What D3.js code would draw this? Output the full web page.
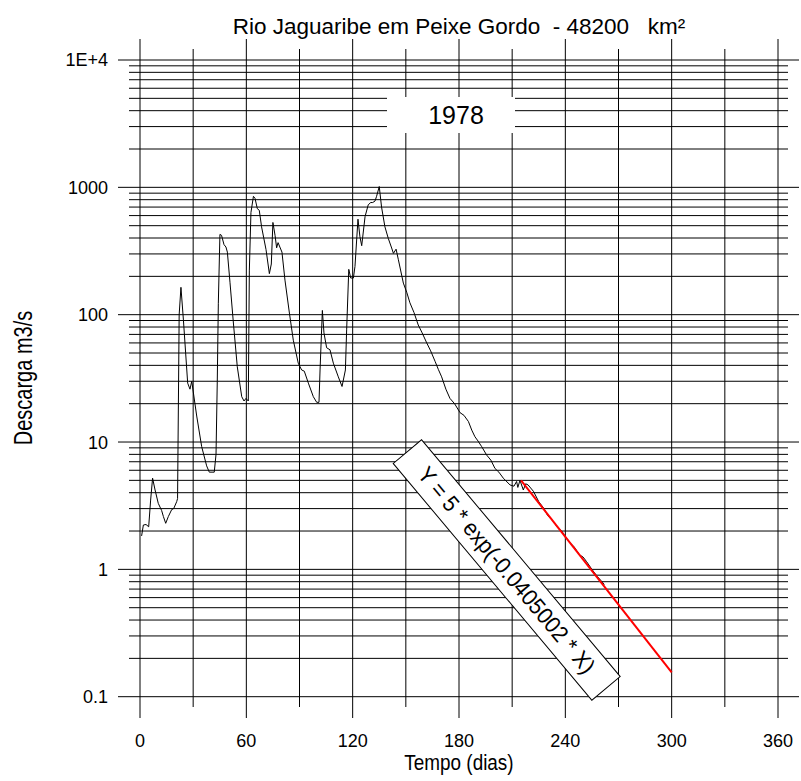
<!DOCTYPE html>
<html>
<head>
<meta charset="utf-8">
<script src="https://cdn.jsdelivr.net/npm/d3@7"></script>
<style>
  body { margin: 0; background: #fff; }
  svg { display: block; font-family: "Liberation Sans", Arial, sans-serif; }
  text { white-space: pre; }
</style>
</head>
<body>
<svg id="chart" width="801" height="781"></svg>
<script>
// daily discharge (day, m3/s)
const days = [0.9, 1.9, 3.4, 4.9, 6.0, 7.1, 8.5, 10.3, 12.2, 13.2, 14.5, 16.0, 17.9, 19.0, 20.7, 21.2,
  22.1, 23.1, 24.5, 26.9, 28.2, 29.2, 32.0, 34.8, 37.6, 39.1, 41.9, 42.9, 43.6, 44.2, 45.1, 46.0,
  47.4, 48.5, 49.3, 50.8, 52.7, 54.9, 57.4, 58.7, 59.8, 61.1, 61.7, 62.6, 64.0, 64.9, 66.2, 67.3,
  68.6, 71.1, 73.0, 74.1, 75.0, 76.2, 77.1, 77.9, 80.1, 81.8, 84.3, 86.5, 89.3, 91.2, 92.7, 95.0,
  97.8, 99.7, 101.0, 101.6, 102.9, 103.8, 105.3, 107.2, 109.1, 111.9, 114.0, 115.9, 116.6, 117.8,
  118.9, 120.4, 121.3, 123.0, 124.1, 125.1, 127.0, 128.8, 130.2, 131.3, 132.6, 133.5, 135.0, 136.3,
  138.2, 140.1, 142.0, 143.0, 144.5, 145.8, 148.6, 150.5, 152.3, 154.6, 157.0, 159.2, 161.8, 164.0,
  166.5, 168.4, 170.2, 172.6, 174.9, 177.5, 180.6, 182.8, 185.3, 187.2, 189.0, 190.7, 192.8, 195.6,
  198.0, 200.3, 202.5, 205.0, 208.8, 211.0, 212.5, 213.2, 214.4, 216.3, 217.6, 219.0,
  222.0, 225, 228, 230, 233, 236, 238, 240, 243, 245, 248, 250, 252, 255, 258, 260, 262];
const discharge = [1.83, 2.23, 2.25, 2.16, 3.5, 5.2, 4.2, 3.3, 2.9, 2.6, 2.3, 2.6, 2.95, 3.0, 3.4, 3.6,
  100, 164, 91, 29, 26, 30, 16, 9.2, 6.5, 5.8, 5.8, 8, 30, 123, 427, 420,
  355, 340, 310, 178, 86, 39, 22.7, 21, 22, 21, 224, 634, 850, 820, 680, 660,
  490, 325, 210, 250, 530, 420, 335, 368, 310, 187, 103, 63, 41.6, 36.8, 36, 29,
  22.7, 20.5, 20.5, 36.8, 108, 72, 55, 53, 41.6, 32.5, 27.3, 36.8, 76, 227,
  194, 194, 239, 562, 409, 348, 590, 730, 760, 760, 780, 850, 1015, 700,
  490, 397, 334, 303, 327, 270, 177, 150, 124, 104, 83, 72, 60, 52,
  43, 37, 32.5, 26, 22, 20, 17, 16.2, 14.5, 12.4, 11, 10.2, 9.2, 7.9,
  7.2, 6.2, 5.8, 5.2, 4.6, 4.5, 4.9, 4.4, 5.0, 4.2, 4.7, 4.6,
  4.1, 3.4, 3.0, 2.65, 2.4, 2.1, 2.0, 1.8, 1.6, 1.5, 1.3, 1.25, 1.15, 1.0, 0.88, 0.82, 0.76];

// recession fit, end points of the red line
const fitDays = [215, 300];
const fitDischarge = [5, 0.155];

const xTicks = [0, 60, 120, 180, 240, 300, 360];
const xGrid = [0, 30, 60, 90, 120, 150, 180, 210, 240, 270, 300, 330, 360];
const yTicks = [0.1, 1, 10, 100, 1000, 10000];
const yTickLabels = ["0.1", "1", "10", "100", "1000", "1E+4"];

const title = "Rio Jaguaribe em Peixe Gordo  - 48200   km²";
const yearLabel = "1978";
const equation = "Y = 5 * exp(-0.0405002 * X)";

const svg = d3.select('#chart');

const x = d3.scaleLinear().domain([0, 360]).range([140, 778]);
const y = d3.scaleLog().domain([0.1, 10000]).range([696.7, 60]);

// horizontal grid: decades long, 2..9 shorter
const minorY = [];
yTicks.slice(0, -1).forEach(d => {
  for (let k = 2; k <= 9; k++) minorY.push(d * k);
});

const grid = svg.append('g').attr('stroke', '#000').attr('stroke-width', 1);

grid.selectAll('line.hmin')
  .data(minorY)
  .join('line')
  .attr('class', 'hmin')
  .attr('x1', 129).attr('x2', 788)
  .attr('y1', d => y(d)).attr('y2', d => y(d));

grid.selectAll('line.hmaj')
  .data(yTicks)
  .join('line')
  .attr('class', 'hmaj')
  .attr('x1', 118).attr('x2', 799)
  .attr('y1', d => y(d)).attr('y2', d => y(d));

grid.selectAll('line.v')
  .data(xGrid)
  .join('line')
  .attr('class', 'v')
  .attr('x1', d => x(d)).attr('x2', d => x(d))
  .attr('y1', d => d % 60 === 0 ? 39 : 49)
  .attr('y2', d => d % 60 === 0 ? 718 : 707);

// year box
svg.append('rect')
  .attr('x', 387).attr('y', 97).attr('width', 128).attr('height', 36)
  .attr('fill', '#fff');
svg.append('text')
  .attr('x', 456).attr('y', 123.5)
  .attr('text-anchor', 'middle')
  .attr('font-size', 25)
  .text(yearLabel);

// hydrograph
const line = d3.line()
  .x(d => x(d[0]))
  .y(d => y(d[1]));

svg.append('path')
  .datum(d3.zip(days, discharge))
  .attr('fill', 'none')
  .attr('stroke', '#000')
  .attr('stroke-width', 1)
  .attr('d', line);

svg.append('path')
  .datum(d3.zip(fitDays, fitDischarge))
  .attr('fill', 'none')
  .attr('stroke', '#ff0000')
  .attr('stroke-width', 2)
  .attr('d', line);

// equation label, rotated box
const eq = svg.append('g').attr('transform', 'translate(506.7,570) rotate(50)');
eq.append('rect')
  .attr('x', -154.5).attr('y', -18.5).attr('width', 309).attr('height', 37)
  .attr('fill', '#fff').attr('stroke', '#000').attr('stroke-width', 1);
eq.append('text')
  .attr('x', 0).attr('y', 8)
  .attr('text-anchor', 'middle')
  .attr('font-size', 23)
  .attr('transform', 'scale(0.93,1)')
  .text(equation);

// tick labels
svg.selectAll('text.ylab')
  .data(yTicks)
  .join('text')
  .attr('class', 'ylab')
  .attr('x', 108)
  .attr('y', d => y(d))
  .attr('dy', '0.36em')
  .attr('text-anchor', 'end')
  .attr('font-size', 18)
  .text((d, i) => yTickLabels[i]);

svg.selectAll('text.xlab')
  .data(xTicks)
  .join('text')
  .attr('class', 'xlab')
  .attr('x', d => x(d))
  .attr('y', 747)
  .attr('text-anchor', 'middle')
  .attr('font-size', 18)
  .text(d => d);

// titles
svg.append('text')
  .attr('x', 459).attr('y', 34)
  .attr('text-anchor', 'middle')
  .attr('font-size', 22.5)
  .text(title);

svg.append('text')
  .attr('x', 459).attr('y', 770)
  .attr('text-anchor', 'middle')
  .attr('font-size', 22)
  .attr('transform', 'translate(459,0) scale(0.86,1) translate(-459,0)')
  .text('Tempo (dias)');

svg.append('text')
  .attr('transform', 'translate(32,378) rotate(-90) scale(0.8,1)')
  .attr('text-anchor', 'middle')
  .attr('font-size', 25)
  .text('Descarga m3/s');
</script>
</body>
</html>
